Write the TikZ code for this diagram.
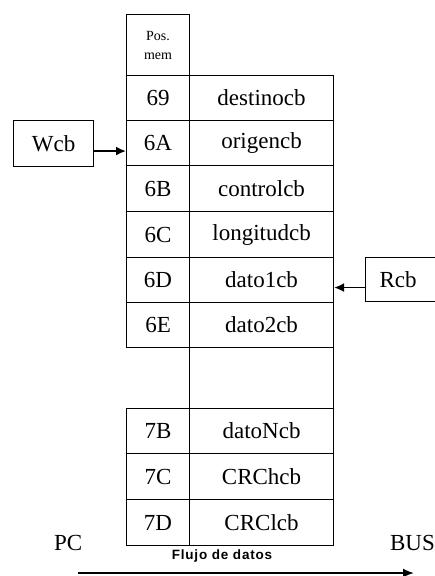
\documentclass[tikz,border=0pt]{standalone}
\usepackage{fontspec}
\setmainfont{Liberation Serif}
\newfontfamily\flujofont[LetterSpace=6]{Liberation Sans}
\usetikzlibrary{arrows.meta}
\tikzset{
  base/.style={draw=black, line width=1.1pt, inner sep=0pt, anchor=north west,
    font=\fontsize{23}{27}\selectfont},
  addr/.style={base, minimum width=63pt},
  val/.style={base, minimum width=144pt},
  lbl/.style={base, minimum width=80pt},
  conn/.style={line width=1.8pt, -{Latex[length=10pt,width=9pt]}},
}
\begin{document}
\begin{tikzpicture}[x=1pt,y=-1pt]
\useasboundingbox[fill=white] (0,0) rectangle (435,576);
% header
\node[addr, minimum height=61pt, align=center, font=\fontsize{14}{19}\selectfont] (pm) at (126,14) {Pos.\\mem};
% rows
\node[addr, minimum height=45pt] (a69) at (126,75) {69};
\node[val,  minimum height=45pt] (v69) at (189,75) {destinocb};
\node[addr, minimum height=45pt] (a6A) at (126,120) {6A};
\node[val,  minimum height=45pt] (v6A) at (189,120) {origencb};
\node[addr, minimum height=46pt] (a6B) at (126,165) {6B};
\node[val,  minimum height=46pt] (v6B) at (189,165) {controlcb};
\node[addr, minimum height=46pt] (a6C) at (126,211) {6C};
\node[val,  minimum height=46pt] (v6C) at (189,211) {longitudcb};
\node[addr, minimum height=45pt] (a6D) at (126,257) {6D};
\node[val,  minimum height=45pt] (v6D) at (189,257) {dato1cb};
\node[addr, minimum height=45pt] (a6E) at (126,302) {6E};
\node[val,  minimum height=45pt] (v6E) at (189,302) {dato2cb};
\node[val,  minimum height=61pt] (gap) at (189,347) {};
\node[addr, minimum height=45pt] (a7B) at (126,408) {7B};
\node[val,  minimum height=45pt] (v7B) at (189,408) {datoNcb};
\node[addr, minimum height=46pt] (a7C) at (126,453) {7C};
\node[val,  minimum height=46pt] (v7C) at (189,453) {CRChcb};
\node[addr, minimum height=46pt] (a7D) at (126,499) {7D};
\node[val,  minimum height=46pt] (v7D) at (189,499) {CRClcb};
% pointers
\node[lbl, minimum height=46pt] (wcb) at (13,120) {Wcb};
\node[lbl, minimum height=44pt, text width=80pt, align=left] (rcb) at (365,257) {\hspace*{14pt}Rcb};
\draw[conn] ([yshift=-7.5pt]wcb.east) -- ([yshift=-7.5pt]wcb.east -| a6A.west);
\draw[conn] ([yshift=-8pt]rcb.west) -- ([yshift=-8pt]rcb.west -| v6D.east);
% flow
\node[font=\fontsize{23}{27}\selectfont, anchor=west, inner sep=0pt] (pc) at (54,543) {PC};
\node[font=\fontsize{23}{27}\selectfont, anchor=east, inner sep=0pt] (bus) at (435,543) {BUS};
\node[font=\flujofont\bfseries\fontsize{13.5}{16}\selectfont, inner sep=0pt] (flujo) at (222,556) {Flujo de datos};
\coordinate (fs) at (78,573);
\coordinate (fe) at (414,573);
\draw[line width=1.8pt, -{Latex[length=11pt,width=9pt]}] (fs) -- (fe);
\end{tikzpicture}
\end{document}
